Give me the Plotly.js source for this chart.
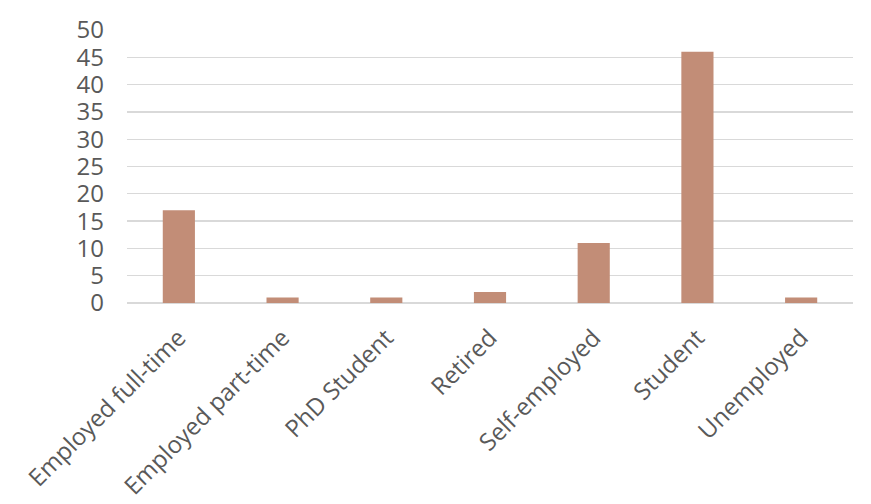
<!DOCTYPE html>
<html>
<head>
<meta charset="utf-8">
<script src="https://cdn.plot.ly/plotly-3.0.1.min.js"></script>
<style>
  html, body { margin: 0; padding: 0; background: #fff; }
  #chart { width: 871px; height: 504px; }
</style>
</head>
<body>
<div id="chart"></div>
<script>
const categories = [
  "Employed full-time",
  "Employed part-time",
  "PhD Student",
  "Retired",
  "Self-employed",
  "Student",
  "Unemployed"
]
const counts = [17, 1, 1, 2, 11, 46, 1]
const yTicks = [0, 5, 10, 15, 20, 25, 30, 35, 40, 45, 50]

const data = [
  {
    type: "bar",
    x: categories,
    y: counts,
    marker: { color: "#C28D77" },
    hoverinfo: "x+y"
  }
]

const layout = {
  width: 871,
  height: 504,
  margin: { l: 127, r: 18, t: 29.5, b: 200.5 },
  paper_bgcolor: "#ffffff",
  plot_bgcolor: "#ffffff",
  bargap: 0.69,
  showlegend: false,
  font: { family: "'Open Sans', sans-serif", color: "#595959", size: 24 },
  xaxis: {
    type: "category",
    tickangle: -45,
    showgrid: false,
    showline: false,
    zeroline: false,
    ticks: "",
    ticklabelstandoff: 15,
    tickfont: { size: 24, color: "#595959" }
  },
  yaxis: {
    range: [0, 50],
    tickvals: yTicks,
    ticktext: yTicks.map(String),
    showgrid: true,
    gridcolor: "#d9d9d9",
    gridwidth: 1.3,
    zeroline: true,
    zerolinecolor: "#d9d9d9",
    zerolinewidth: 1.3,
    showline: false,
    ticks: "",
    ticklen: 0,
    ticklabelstandoff: 22,
    tickfont: { size: 24, color: "#595959" },
    automargin: false
  }
}

Plotly.newPlot("chart", data, layout, { displayModeBar: false, staticPlot: true })
</script>
</body>
</html>
